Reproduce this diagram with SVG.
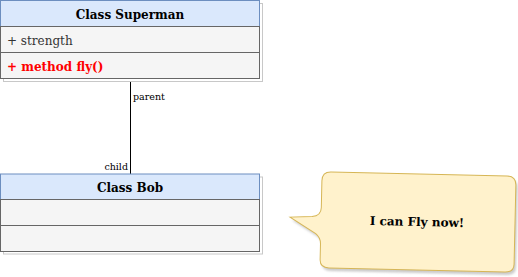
<svg xmlns="http://www.w3.org/2000/svg" width="518" height="277" viewBox="0 0 518 277">
  <style>
    text { font-family: "DejaVu Serif", "Liberation Serif", serif; }
    .shadow { fill: #ffffff; stroke: #c8c8c8; stroke-width: 1; }
    .head { fill: #dae8fc; stroke: #6c8ebf; stroke-width: 1; }
    .row { fill: #f5f5f5; stroke: #666666; stroke-width: 1; }
    .title { font-size: 12px; font-weight: bold; fill: #000; text-anchor: middle; }
    .attr { font-size: 12px; fill: #333333; }
    .method { font-size: 12px; font-weight: bold; fill: #ff0000; }
    .edge { stroke: #000; stroke-width: 1; fill: none; }
    .elabel { font-size: 9.5px; fill: #000; }
    .note { fill: #fff2cc; stroke: #d6b656; stroke-width: 1; }
    .note-text { font-size: 12px; font-weight: bold; fill: #000; text-anchor: middle; }
  </style>
  <defs>
    <filter id="soft" x="-10%" y="-10%" width="130%" height="130%">
      <feGaussianBlur stdDeviation="1.2"/>
    </filter>
    <path id="callout-shape" d="M 330 174 L 506 174 Q 515 174 515 183 L 515 262 Q 515 270 506 270 L 330 270 Q 321 270 321 262 L 321 246 Q 321 240 316 236 L 290 220 L 312 219 Q 321 218 321 210 L 321 183 Q 321 174 330 174 Z"/>
  </defs>

  <g id="connectors">
    <line class="edge" x1="130.5" y1="78.5" x2="130.5" y2="174"/>
    <text class="elabel" x="133" y="100">parent</text>
    <text class="elabel" x="128" y="170" text-anchor="end">child</text>
  </g>

  <g id="class-superman">
    <rect class="shadow" x="3.5" y="3.5" width="259" height="78"/>
    <rect class="head" x="0.5" y="0.5" width="259" height="26"/>
    <rect class="row" x="0.5" y="26.5" width="259" height="26"/>
    <rect class="row" x="0.5" y="52.5" width="259" height="26"/>
    <text class="title" x="130" y="18.5">Class Superman</text>
    <text class="attr" x="7" y="45">+ strength</text>
    <text class="method" x="7" y="71">+ method fly()</text>
  </g>

  <g id="class-bob">
    <rect class="shadow" x="3.5" y="177" width="259" height="77"/>
    <rect class="head" x="0.5" y="174" width="259" height="25.5"/>
    <rect class="row" x="0.5" y="199.5" width="259" height="26"/>
    <rect class="row" x="0.5" y="225.5" width="259" height="26"/>
    <text class="title" x="130" y="191.5">Class Bob</text>
  </g>

  <g id="callout" transform="rotate(1.3 417.5 222)">
    <use href="#callout-shape" fill="#999" opacity="0.5" transform="translate(2 3)" filter="url(#soft)"/>
    <use href="#callout-shape" class="note"/>
    <text class="note-text" x="417" y="226">I can Fly now!</text>
  </g>
</svg>
